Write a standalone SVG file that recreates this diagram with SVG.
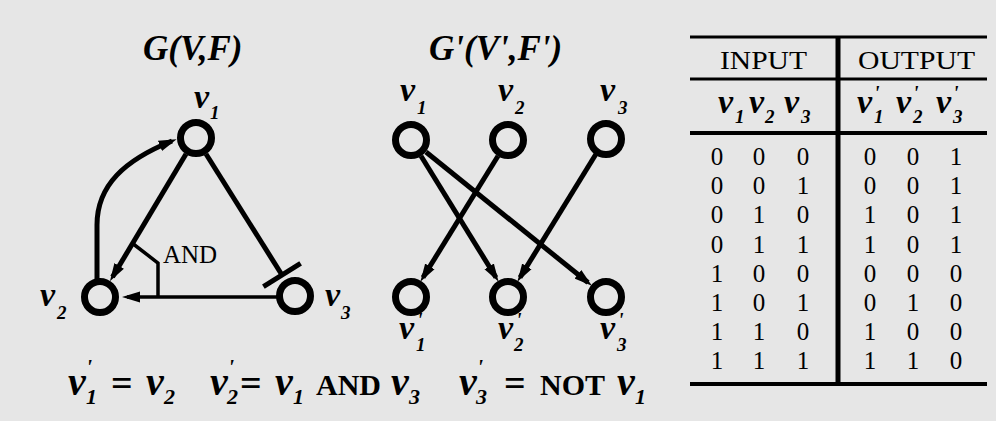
<svg xmlns="http://www.w3.org/2000/svg" width="996" height="421" viewBox="0 0 996 421">
<defs>
<style>
.bg{fill:#e6e6e6}
.node{fill:none;stroke:#000;stroke-width:7}
.edge{fill:none;stroke:#000;stroke-width:5}
.thin{fill:none;stroke:#000;stroke-width:3.5}
.rule{stroke:#000;fill:none}
.v{font-family:"Liberation Serif","Times New Roman",serif;font-style:italic;font-weight:bold;fill:#000}
.t{font-family:"Liberation Serif","Times New Roman",serif;fill:#000}
.b{font-family:"Liberation Serif","Times New Roman",serif;font-weight:bold;fill:#000}
.d{font-family:"Liberation Serif","Times New Roman",serif;font-size:25px;fill:#000;text-anchor:middle}
</style>
<marker id="arr" markerUnits="userSpaceOnUse" markerWidth="18" markerHeight="12" viewBox="0 0 18 12" refX="13" refY="6" orient="auto">
<path d="M0,0.5 L18,6 L0,11.5 z" fill="#000"/>
</marker>
</defs>
<rect class="bg" x="0" y="0" width="996" height="421"/>

<!-- titles -->
<text class="v" x="143" y="60" font-size="35">G(V,F)</text>
<text class="v" x="429" y="60" font-size="35">G'(V',F')</text>

<!-- connectors -->
<g id="connectors">
<path class="edge" d="M186,154 L112.5,277" marker-end="url(#arr)"/>
<path class="edge" d="M206,154 L282,275"/>
<line class="edge" x1="263.4" y1="286.7" x2="300.6" y2="263.3"/>
<path class="thin" d="M277,297 L127,297" marker-end="url(#arr)"/>
<path class="edge" d="M97,280 L97,225 C97,185 125,160 172,141" marker-end="url(#arr)"/>
<path class="thin" d="M132,243 L158,263 L158,297"/>
<path class="edge" d="M498,156 L423,277.5" marker-end="url(#arr)"/>
<path class="edge" d="M421,156 L496,277.5" marker-end="url(#arr)"/>
<path class="edge" d="M426,152 L588,282.5" marker-end="url(#arr)"/>
<path class="edge" d="M596,154 L520,277.5" marker-end="url(#arr)"/>
</g>
<text class="t" x="163" y="263" font-size="25">AND</text>

<!-- left graph nodes -->
<g id="n-v1">
<circle class="node" cx="196" cy="138" r="15.5"/>
<text class="v" x="194" y="108" font-size="34">v</text><text class="v" x="210" y="119" font-size="19">1</text>
</g>
<g id="n-v2">
<circle class="node" cx="100" cy="297" r="15.5"/>
<text class="v" x="40" y="306" font-size="34">v</text><text class="v" x="57" y="319" font-size="19">2</text>
</g>
<g id="n-v3">
<circle class="node" cx="295" cy="296" r="15.5"/>
<text class="v" x="325" y="306" font-size="34">v</text><text class="v" x="341" y="319" font-size="19">3</text>
</g>

<!-- middle graph nodes -->
<g id="m-v1">
<circle class="node" cx="411" cy="140" r="15.5"/>
<text class="v" x="400" y="101" font-size="34">v</text><text class="v" x="417" y="114" font-size="19">1</text>
</g>
<g id="m-v2">
<circle class="node" cx="508" cy="140" r="15.5"/>
<text class="v" x="498" y="101" font-size="34">v</text><text class="v" x="515" y="114" font-size="19">2</text>
</g>
<g id="m-v3">
<circle class="node" cx="606" cy="139" r="15.5"/>
<text class="v" x="600" y="101" font-size="34">v</text><text class="v" x="618" y="114" font-size="19">3</text>
</g>
<g id="m-v1p">
<circle class="node" cx="411" cy="297" r="15.5"/>
<text class="v" x="399" y="339" font-size="34">v</text><text class="v" x="417" y="327" font-size="20">'</text><text class="v" x="416" y="351" font-size="19">1</text>
</g>
<g id="m-v2p">
<circle class="node" cx="508" cy="297" r="15.5"/>
<text class="v" x="498" y="339" font-size="34">v</text><text class="v" x="516" y="327" font-size="20">'</text><text class="v" x="514" y="351" font-size="19">2</text>
</g>
<g id="m-v3p">
<circle class="node" cx="606" cy="297" r="15.5"/>
<text class="v" x="600" y="339" font-size="34">v</text><text class="v" x="618" y="327" font-size="20">'</text><text class="v" x="617" y="351" font-size="19">3</text>
</g>

<!-- formula -->
<g id="formula">
<text class="v" x="68" y="395" font-size="40">v</text><text class="v" x="86" y="374" font-size="22">'</text><text class="v" x="86" y="404" font-size="22">1</text>
<text class="b" x="111" y="396" font-size="38">=</text>
<text class="v" x="146" y="395" font-size="40">v</text><text class="v" x="164" y="404" font-size="22">2</text>
<text class="v" x="210" y="395" font-size="40">v</text><text class="v" x="228" y="374" font-size="22">'</text><text class="v" x="227" y="404" font-size="22">2</text>
<text class="b" x="240" y="396" font-size="38">=</text>
<text class="v" x="275" y="395" font-size="40">v</text><text class="v" x="293" y="404" font-size="22">1</text>
<text class="b" x="316" y="395" font-size="30">AND</text>
<text class="v" x="391" y="395" font-size="40">v</text><text class="v" x="409" y="404" font-size="22">3</text>
<text class="v" x="459" y="395" font-size="40">v</text><text class="v" x="477" y="374" font-size="22">'</text><text class="v" x="476" y="404" font-size="22">3</text>
<text class="b" x="504" y="396" font-size="38">=</text>
<text class="b" x="540" y="395" font-size="30">NOT</text>
<text class="v" x="617" y="395" font-size="40">v</text><text class="v" x="635" y="404" font-size="22">1</text>
</g>

<!-- truth table -->
<g id="table">
<line class="rule" x1="690" y1="37" x2="987" y2="37" stroke-width="3"/>
<line class="rule" x1="690" y1="79" x2="987" y2="79" stroke-width="3"/>
<line class="rule" x1="690" y1="133" x2="987" y2="133" stroke-width="4"/>
<line class="rule" x1="690" y1="384" x2="987" y2="384" stroke-width="4"/>
<line class="rule" x1="838" y1="36" x2="838" y2="385" stroke-width="5"/>
<text class="t" x="720" y="69" font-size="25" textLength="87" lengthAdjust="spacingAndGlyphs">INPUT</text>
<text class="t" x="858" y="69" font-size="25" textLength="117" lengthAdjust="spacingAndGlyphs">OUTPUT</text>
<text class="v" x="718" y="113" font-size="34">v</text><text class="v" x="735" y="123" font-size="19">1</text>
<text class="v" x="749" y="113" font-size="34">v</text><text class="v" x="765" y="123" font-size="19">2</text>
<text class="v" x="784" y="113" font-size="34">v</text><text class="v" x="801" y="123" font-size="19">3</text>
<text class="v" x="857" y="113" font-size="34">v</text><text class="v" x="874" y="100" font-size="20">'</text><text class="v" x="874" y="123" font-size="19">1</text>
<text class="v" x="896" y="113" font-size="34">v</text><text class="v" x="913" y="100" font-size="20">'</text><text class="v" x="913" y="123" font-size="19">2</text>
<text class="v" x="936" y="113" font-size="34">v</text><text class="v" x="953" y="100" font-size="20">'</text><text class="v" x="953" y="123" font-size="19">3</text>
<g class="d">
<text x="717" y="165">0</text><text x="759" y="165">0</text><text x="803" y="165">0</text><text x="870" y="165">0</text><text x="913" y="165">0</text><text x="956" y="165">1</text>
<text x="717" y="194">0</text><text x="759" y="194">0</text><text x="803" y="194">1</text><text x="870" y="194">0</text><text x="913" y="194">0</text><text x="956" y="194">1</text>
<text x="717" y="223">0</text><text x="759" y="223">1</text><text x="803" y="223">0</text><text x="870" y="223">1</text><text x="913" y="223">0</text><text x="956" y="223">1</text>
<text x="717" y="253">0</text><text x="759" y="253">1</text><text x="803" y="253">1</text><text x="870" y="253">1</text><text x="913" y="253">0</text><text x="956" y="253">1</text>
<text x="717" y="282">1</text><text x="759" y="282">0</text><text x="803" y="282">0</text><text x="870" y="282">0</text><text x="913" y="282">0</text><text x="956" y="282">0</text>
<text x="717" y="311">1</text><text x="759" y="311">0</text><text x="803" y="311">1</text><text x="870" y="311">0</text><text x="913" y="311">1</text><text x="956" y="311">0</text>
<text x="717" y="340">1</text><text x="759" y="340">1</text><text x="803" y="340">0</text><text x="870" y="340">1</text><text x="913" y="340">0</text><text x="956" y="340">0</text>
<text x="717" y="369">1</text><text x="759" y="369">1</text><text x="803" y="369">1</text><text x="870" y="369">1</text><text x="913" y="369">1</text><text x="956" y="369">0</text>
</g>
</g>
</svg>
